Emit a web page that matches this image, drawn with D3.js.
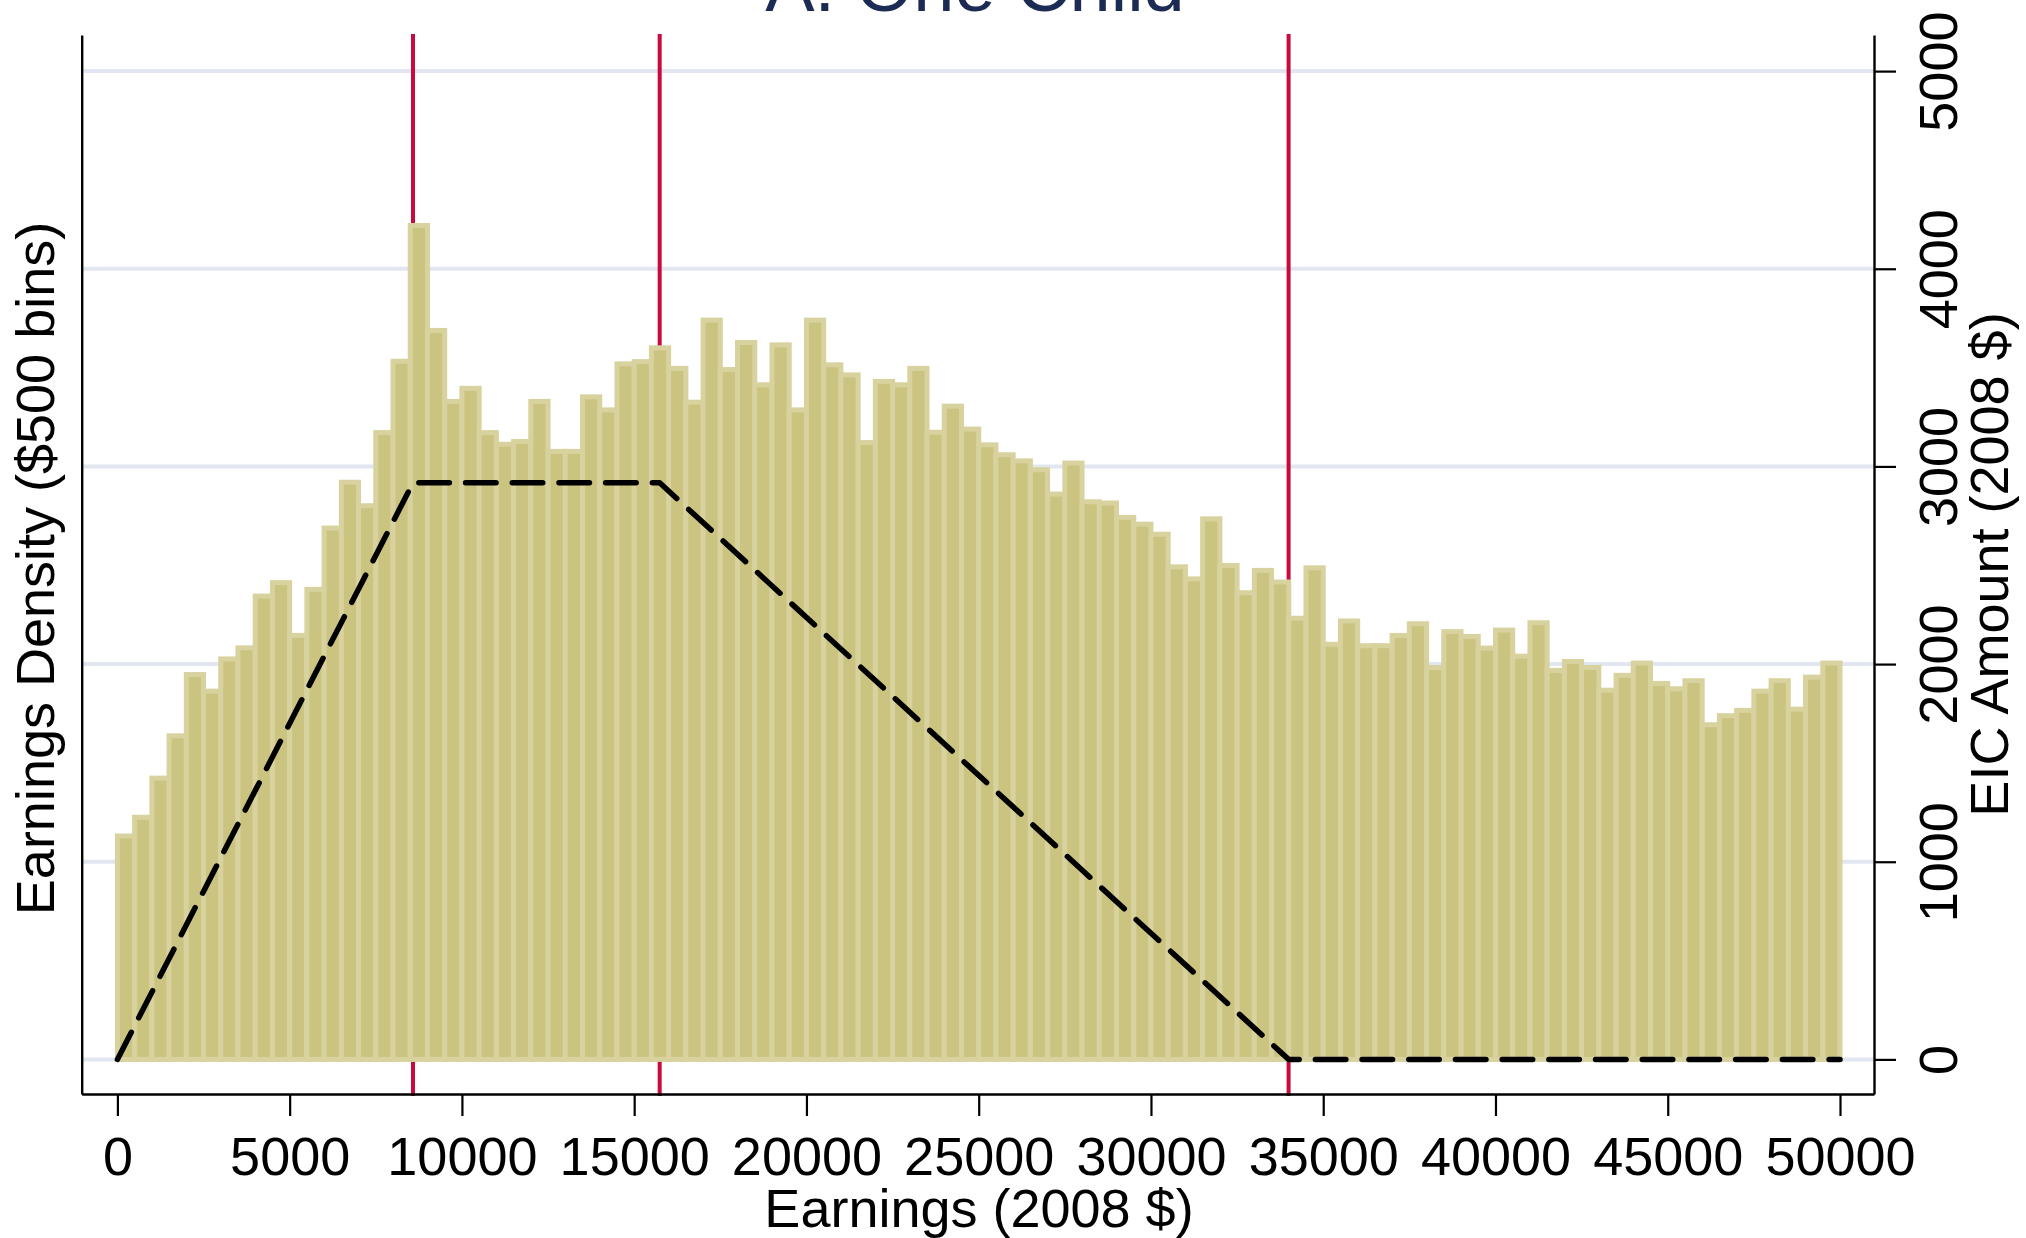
<!DOCTYPE html>
<html>
<head>
<meta charset="utf-8">
<script src="https://cdn.jsdelivr.net/npm/d3@7"></script>
<style>
  html, body { margin: 0; padding: 0; background: #ffffff; }
  svg { display: block; }
  text { font-family: "Liberation Sans", Arial, Helvetica, sans-serif; }
</style>
</head>
<body>
<svg id="chart" width="2026" height="1238"></svg>
<script>
// ---------------- data ----------------
const title = "A. One Child";
const xTitle = "Earnings (2008 $)";
const yLeftTitle = "Earnings Density ($500 bins)";
const yRightTitle = "EIC Amount (2008 $)";

// lower edges of the $500 earnings bins
const binEdges = [
  0, 500, 1000, 1500, 2000, 2500, 3000, 3500, 4000, 4500,
  5000, 5500, 6000, 6500, 7000, 7500, 8000, 8500, 9000, 9500,
  10000, 10500, 11000, 11500, 12000, 12500, 13000, 13500, 14000, 14500,
  15000, 15500, 16000, 16500, 17000, 17500, 18000, 18500, 19000, 19500,
  20000, 20500, 21000, 21500, 22000, 22500, 23000, 23500, 24000, 24500,
  25000, 25500, 26000, 26500, 27000, 27500, 28000, 28500, 29000, 29500,
  30000, 30500, 31000, 31500, 32000, 32500, 33000, 33500, 34000, 34500,
  35000, 35500, 36000, 36500, 37000, 37500, 38000, 38500, 39000, 39500,
  40000, 40500, 41000, 41500, 42000, 42500, 43000, 43500, 44000, 44500,
  45000, 45500, 46000, 46500, 47000, 47500, 48000, 48500, 49000, 49500
];
const binWidth = 500;

// earnings density (drawn on the same visual scale as the right axis)
const density = [
  1130, 1225, 1423, 1637, 1947, 1863, 2026, 2082, 2344, 2412,
  2145, 2378, 2688, 2920, 2801, 3171, 3532, 4219, 3688, 3329,
  3395, 3171, 3112, 3126, 3329, 3076, 3076, 3352, 3286, 3519,
  3530, 3600, 3496, 3325, 3740, 3490, 3627, 3413, 3615, 3286,
  3740, 3514, 3463, 3121, 3430, 3413, 3496, 3173, 3305, 3189,
  3109, 3059, 3028, 2983, 2860, 3017, 2821, 2815, 2742, 2708,
  2657, 2492, 2431, 2735, 2499, 2361, 2474, 2415, 2232, 2487,
  2100, 2218, 2093, 2093, 2145, 2204, 1983, 2164, 2140, 2081,
  2172, 2040, 2209, 1968, 2013, 1983, 1868, 1943, 2005, 1902,
  1875, 1916, 1693, 1739, 1766, 1863, 1916, 1772, 1934, 2005
];

// EIC schedule (one child, 2008)
const eicEarnings = [0, 8580, 15740, 33995, 50000];
const eicAmount   = [0, 2917, 2917, 0, 0];

// kink points marked by vertical lines
const kinks = [8580, 15740, 33995];

// tick values
const xTicks = [0, 5000, 10000, 15000, 20000, 25000, 30000, 35000, 40000, 45000, 50000];
const yTicks = [0, 1000, 2000, 3000, 4000, 5000];

// ---------------- layout ----------------
const W = 2026, H = 1238;
const plotLeft = 81.7, plotRight = 1874, plotTop = 35, plotBottom = 1094;
const FONT = 54;

const svg = d3.select("#chart");
svg.append("rect").attr("width", W).attr("height", H).attr("fill", "#ffffff");

const xBase = d3.scaleLinear().domain([0, 50000]).range([117.4, 1840]);
const x = xBase.copy().domain([xBase.invert(plotLeft), xBase.invert(plotRight)]).range([plotLeft, plotRight]);
const yBase = d3.scaleLinear().domain([0, 5000]).range([1059.4, 71.1]);
const y = yBase.copy().domain([yBase.invert(plotBottom), yBase.invert(plotTop)]).range([plotBottom, plotTop]);

// gridlines
svg.append("g").selectAll("line").data(yTicks).join("line")
  .attr("x1", plotLeft).attr("x2", plotRight)
  .attr("y1", d => y(d)).attr("y2", d => y(d))
  .attr("stroke", "#e1e6f0").attr("stroke-width", 4);

// vertical kink lines (behind bars)
svg.append("g").selectAll("line").data(kinks).join("line")
  .attr("x1", d => x(d)).attr("x2", d => x(d))
  .attr("y1", plotTop - 1).attr("y2", plotBottom + 2)
  .attr("stroke", "#c80a3c").attr("stroke-width", 4);

// histogram bars
svg.append("g").selectAll("rect").data(density).join("rect")
  .attr("x", (d, i) => x(binEdges[i]))
  .attr("width", (d, i) => x(binEdges[i] + binWidth) - x(binEdges[i]))
  .attr("y", d => y(d))
  .attr("height", d => y(0) - y(d))
  .attr("fill", "#cbc380")
  .attr("stroke", "#d8d29e")
  .attr("stroke-width", 5);

// EIC schedule dashed line
const eicPts = eicEarnings.map((e, i) => [e, eicAmount[i]]);
svg.append("path")
  .datum(eicPts)
  .attr("d", d3.line().x(d => x(d[0])).y(d => y(d[1])))
  .attr("fill", "none")
  .attr("stroke", "#000000")
  .attr("stroke-width", 5.5)
  .attr("stroke-linecap", "round")
  .attr("stroke-linejoin", "round")
  .attr("stroke-dasharray", "30.5 16.2");

// x axis
const gx = svg.append("g").attr("transform", `translate(0,${plotBottom})`)
  .call(d3.axisBottom(x).tickValues(xTicks).tickFormat(d3.format("d"))
    .tickSize(22).tickSizeOuter(0).tickPadding(20.7));
gx.selectAll("text").attr("font-size", FONT).attr("fill", "#000").attr("font-family", null);
gx.selectAll("line").attr("stroke", "#000").attr("stroke-width", 2.2);
gx.select(".domain").attr("stroke", "#000").attr("stroke-width", 2.4);

// left axis (line only)
const gl = svg.append("g").attr("transform", `translate(${plotLeft},0)`)
  .call(d3.axisLeft(y).tickValues([]).tickSizeOuter(0));
gl.select(".domain").attr("stroke", "#000").attr("stroke-width", 2.4);

// right axis
const gr = svg.append("g").attr("transform", `translate(${plotRight},0)`)
  .call(d3.axisRight(y).tickValues(yTicks).tickFormat(d3.format("d"))
    .tickSize(22).tickSizeOuter(0));
gr.selectAll("line").attr("stroke", "#000").attr("stroke-width", 2.2);
gr.select(".domain").attr("stroke", "#000").attr("stroke-width", 2.4);
gr.selectAll("text")
  .attr("x", null).attr("dy", null).attr("y", null)
  .attr("transform", "translate(83,0) rotate(-90)")
  .attr("text-anchor", "middle")
  .attr("font-size", FONT).attr("fill", "#000").attr("font-family", null);

// titles
svg.append("text")
  .attr("x", 975).attr("y", 11)
  .attr("text-anchor", "middle")
  .attr("font-size", 74)
  .attr("fill", "#1c2b53")
  .text(title);

svg.append("text")
  .attr("x", 979).attr("y", 1227)
  .attr("text-anchor", "middle")
  .attr("font-size", FONT)
  .attr("fill", "#000")
  .text(xTitle);

svg.append("text")
  .attr("transform", `translate(54,${(plotTop + plotBottom) / 2 + 4}) rotate(-90)`)
  .attr("text-anchor", "middle")
  .attr("font-size", FONT)
  .attr("fill", "#000")
  .text(yLeftTitle);

svg.append("text")
  .attr("transform", `translate(2008,${(plotTop + plotBottom) / 2}) rotate(-90)`)
  .attr("text-anchor", "middle")
  .attr("font-size", FONT)
  .attr("fill", "#000")
  .text(yRightTitle);
</script>
</body>
</html>
